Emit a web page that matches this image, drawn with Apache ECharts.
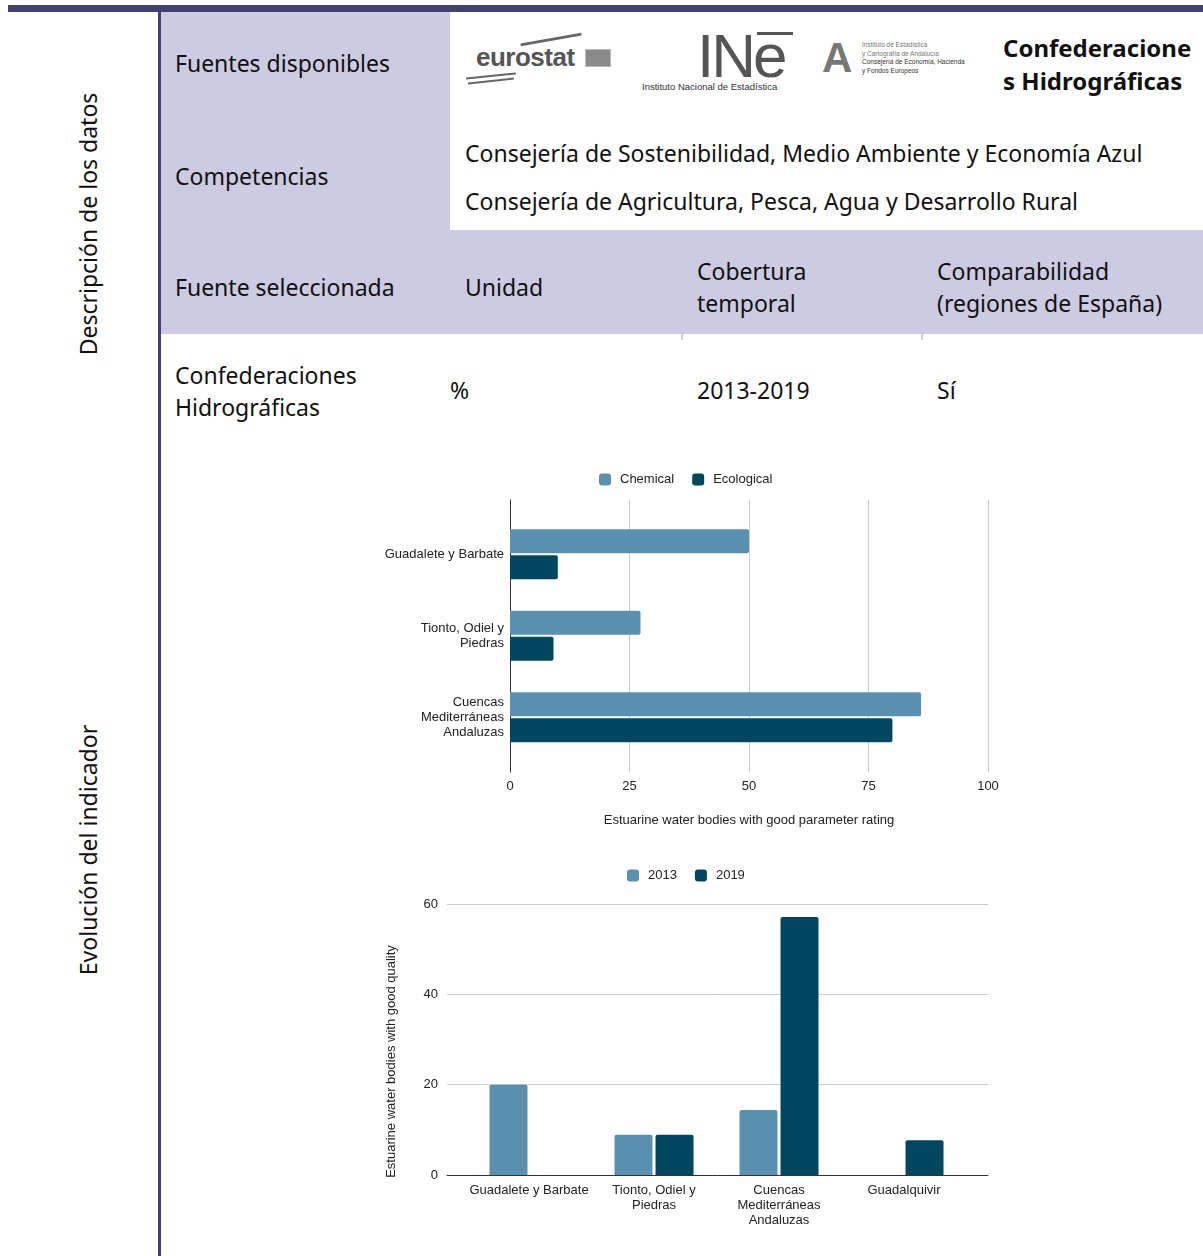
<!DOCTYPE html>
<html>
<head>
<meta charset="utf-8">
<script src="https://cdn.jsdelivr.net/npm/echarts@6/dist/echarts.min.js"></script>
<style>
  html, body { margin: 0; padding: 0; background: #fff; }
  #page { position: relative; width: 1203px; height: 1256px; overflow: hidden;
          font-family: "Noto Sans", sans-serif; color: #111; }
  .abs { position: absolute; }
  .band { background: #cccbe2; }
  .t { position: absolute; font-size: 23px; line-height: 32px; white-space: nowrap; }
  .side { position: absolute; font-size: 23px; white-space: nowrap; transform: translate(-50%, -50%) rotate(-90deg); }
  #chart { position: absolute; left: 161px; top: 440px; width: 1042px; height: 816px; }
</style>
</head>
<body>
<div id="page">
  <!-- frame -->
  <div class="abs" style="left:8px;top:5px;width:1195px;height:7px;background:#43416f"></div>
  <div class="abs" style="left:158px;top:12px;width:3px;height:1244px;background:#43416f"></div>
  <div class="abs band" style="left:161px;top:12px;width:289px;height:218px"></div>
  <div class="abs band" style="left:161px;top:230px;width:1042px;height:104px"></div>
  <div class="abs band" style="left:681px;top:334px;width:2px;height:6px"></div>
  <div class="abs band" style="left:921px;top:334px;width:2px;height:6px"></div>

  <div class="side" style="left:88px;top:224px">Descripción de los datos</div>
  <div class="side" style="left:88px;top:850px">Evolución del indicador</div>

  <!-- table text -->
  <div class="t" style="left:175px;top:47px">Fuentes disponibles</div>
  <div class="t" style="left:175px;top:160px">Competencias</div>
  <div class="t" style="left:465px;top:137px">Consejería de Sostenibilidad, Medio Ambiente y Economía Azul</div>
  <div class="t" style="left:465px;top:185px">Consejería de Agricultura, Pesca, Agua y Desarrollo Rural</div>
  <div class="t" style="left:175px;top:271px">Fuente seleccionada</div>
  <div class="t" style="left:465px;top:271px">Unidad</div>
  <div class="t" style="left:697px;top:255px">Cobertura<br>temporal</div>
  <div class="t" style="left:937px;top:255px">Comparabilidad<br>(regiones de España)</div>
  <div class="t" style="left:175px;top:359px">Confederaciones<br>Hidrográficas</div>
  <div class="t" style="left:450px;top:374px">%</div>
  <div class="t" style="left:697px;top:374px">2013-2019</div>
  <div class="t" style="left:937px;top:374px">Sí</div>
  <div class="t" style="left:1003px;top:31px;font-weight:bold;font-size:24px;line-height:33px">Confederacione<br>s Hidrográficas</div>

  <!-- source logos as text -->
  <div class="abs" style="left:476px;top:42px;font:bold 26px 'Liberation Sans',sans-serif;color:#555;letter-spacing:-0.5px">eurostat</div>
  <div class="abs" style="left:585px;top:49px;width:24px;height:16px;background:#8a8a8a;border:1px solid #bbb"></div>
  <div class="abs" style="left:520px;top:38px;width:62px;height:3px;background:#666;transform:rotate(-10deg);border-radius:2px"></div>
  <div class="abs" style="left:466px;top:75px;width:50px;height:2px;background:#666;transform:rotate(-6deg)"></div>
  <div class="abs" style="left:468px;top:80px;width:46px;height:2px;background:#666;transform:rotate(-6deg)"></div>
  <div class="abs" style="left:697px;top:24px;font:62px 'Liberation Sans Narrow','Liberation Sans',sans-serif;color:#555;letter-spacing:-3px;line-height:64px">INe</div>
  <div class="abs" style="left:757px;top:32px;width:36px;height:3px;background:#555"></div>
  <div class="abs" style="left:642px;top:81px;font:9.5px 'Liberation Sans',sans-serif;color:#333">Instituto Nacional de Estadística</div>
  <div class="abs" style="left:822px;top:36px;font:bold 42px 'Liberation Sans',sans-serif;color:#777;line-height:44px">A</div>
  <div class="abs" style="left:862px;top:41px;font:6.5px 'Liberation Sans',sans-serif;color:#777;line-height:8.5px">Instituto de Estadística<br>y Cartografía de Andalucía<br><span style="color:#333">Consejería de Economía, Hacienda<br>y Fondos Europeos</span></div>

  <div id="chart"></div>
</div>
<script>
// chart 1: estuarine water bodies with good parameter rating
const parameterCategories = ['Guadalete y Barbate', 'Tionto, Odiel y\nPiedras', 'Cuencas\nMediterráneas\nAndaluzas'];
const chemicalValues = [50, 27.3, 86];
const ecologicalValues = [10, 9.1, 80];
const ratingTicks = [0, 25, 50, 75, 100];

// chart 2: estuarine water bodies with good quality
const qualityCategories = ['Guadalete y Barbate', 'Tionto, Odiel y\nPiedras', 'Cuencas\nMediterráneas\nAndaluzas', 'Guadalquivir'];
const quality2013 = [20, 8.9, 14.4, null];
const quality2019 = [null, 8.9, 57.1, 7.7];
const qualityTicks = [0, 20, 40, 60];

const lightBlue = '#5a91b0';
const darkBlue = '#01465f';
const labelFont = { fontFamily: 'Liberation Sans, Arial, sans-serif', fontSize: 13, color: '#222' };
const legendText = Object.assign({ padding: [0, 0, 0, 4] }, labelFont);

const chart = echarts.init(document.getElementById('chart'));
chart.setOption({
  animation: false,
  legend: [
    {
      data: ['Chemical', 'Ecological'],
      left: 433, top: 28,
      itemWidth: 12, itemHeight: 12, itemGap: 18,
      icon: 'roundRect',
      textStyle: legendText
    },
    {
      data: ['2013', '2019'],
      left: 461, top: 424,
      itemWidth: 12, itemHeight: 12, itemGap: 18,
      icon: 'roundRect',
      textStyle: legendText
    }
  ],
  grid: [
    { left: 349, top: 73.5, width: 478, height: 244.5 },   // bars, chart 1
    { left: 349, top: 60, width: 478, height: 272 },       // axes, chart 1
    { left: 305.5, top: 464, width: 500, height: 271 },    // bars, chart 2
    { left: 286, top: 464, width: 541, height: 271 }       // axes, chart 2
  ],
  xAxis: [
    { gridIndex: 0, type: 'value', min: ratingTicks[0], max: ratingTicks[ratingTicks.length - 1], show: false },
    {
      gridIndex: 1, type: 'value',
      min: ratingTicks[0], max: ratingTicks[ratingTicks.length - 1], interval: ratingTicks[1] - ratingTicks[0],
      axisLine: { show: false }, axisTick: { show: false },
      axisLabel: Object.assign({ margin: 8 }, labelFont),
      splitLine: { lineStyle: { color: '#cccccc' } },
      name: 'Estuarine water bodies with good parameter rating',
      nameLocation: 'middle', nameGap: 42,
      nameTextStyle: labelFont
    },
    {
      gridIndex: 2, type: 'category', data: qualityCategories,
      axisLine: { show: false }, axisTick: { show: false },
      axisLabel: Object.assign({ margin: 8, lineHeight: 15, interval: 0 }, labelFont)
    },
    {
      gridIndex: 3, type: 'value', min: 0, max: 1,
      axisLine: { show: true, onZero: false, lineStyle: { color: '#333', width: 1 } },
      axisTick: { show: false }, axisLabel: { show: false }, splitLine: { show: false }
    }
  ],
  yAxis: [
    {
      gridIndex: 0, type: 'category', data: parameterCategories, inverse: true,
      axisLine: { show: false }, axisTick: { show: false },
      axisLabel: Object.assign({ margin: 6, lineHeight: 15, align: 'right' }, labelFont)
    },
    {
      gridIndex: 1, type: 'value', min: 0, max: 1,
      axisLine: { show: true, onZero: false, lineStyle: { color: '#333', width: 1 } },
      axisTick: { show: false }, axisLabel: { show: false }, splitLine: { show: false }
    },
    { gridIndex: 2, type: 'value', min: qualityTicks[0], max: qualityTicks[qualityTicks.length - 1], show: false },
    {
      gridIndex: 3, type: 'value',
      min: qualityTicks[0], max: qualityTicks[qualityTicks.length - 1], interval: qualityTicks[1] - qualityTicks[0],
      axisLine: { show: false }, axisTick: { show: false },
      axisLabel: Object.assign({ margin: 9 }, labelFont),
      splitLine: { lineStyle: { color: '#cccccc' } },
      name: 'Estuarine water bodies with good quality',
      nameLocation: 'middle', nameGap: 49, nameRotate: 90,
      nameTextStyle: Object.assign({}, labelFont, { padding: [0, 44, 0, 0] })
    }
  ],
  series: [
    {
      name: 'Chemical', type: 'bar', xAxisIndex: 0, yAxisIndex: 0,
      data: chemicalValues, barWidth: 24, barGap: '8%',
      itemStyle: { color: lightBlue, borderRadius: [0, 2, 2, 0] }
    },
    {
      name: 'Ecological', type: 'bar', xAxisIndex: 0, yAxisIndex: 0,
      data: ecologicalValues, barWidth: 24, barGap: '8%',
      itemStyle: { color: darkBlue, borderRadius: [0, 2, 2, 0] }
    },
    {
      name: '2013', type: 'bar', xAxisIndex: 2, yAxisIndex: 2,
      data: quality2013, barWidth: 38, barGap: '8%',
      itemStyle: { color: lightBlue, borderRadius: [2, 2, 0, 0] }
    },
    {
      name: '2019', type: 'bar', xAxisIndex: 2, yAxisIndex: 2,
      data: quality2019, barWidth: 38, barGap: '8%',
      itemStyle: { color: darkBlue, borderRadius: [2, 2, 0, 0] }
    }
  ]
});
</script>
</body>
</html>
